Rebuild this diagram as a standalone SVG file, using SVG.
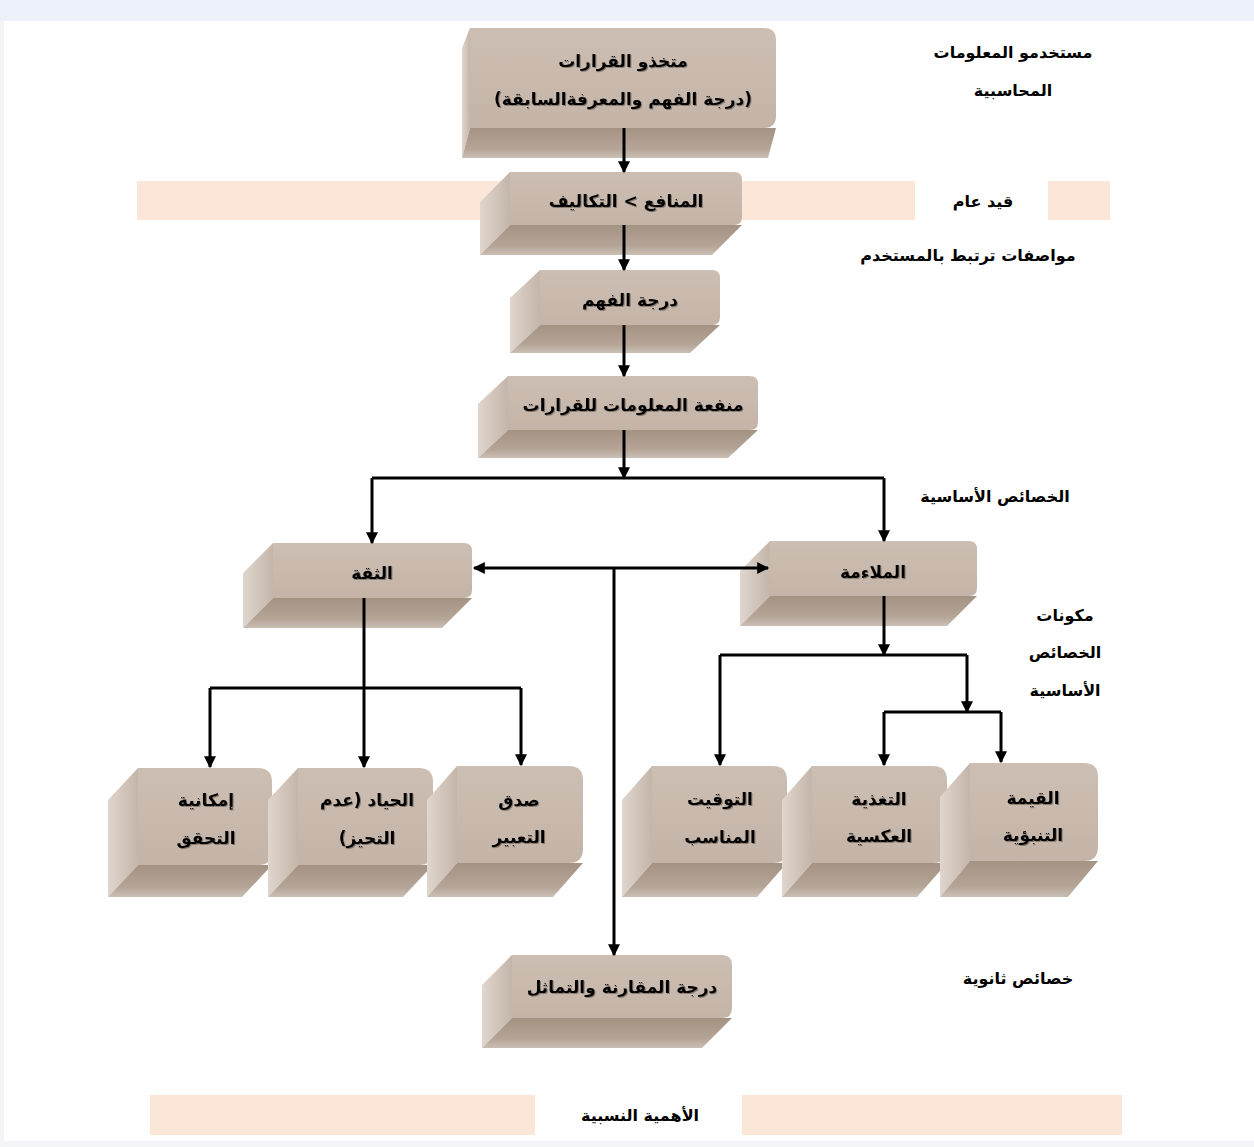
<svg xmlns="http://www.w3.org/2000/svg" width="1254" height="1147" viewBox="0 0 1254 1147">
  <style>
    text { font-family: "DejaVu Sans", "Noto Sans", sans-serif; font-weight: bold; fill: #000; text-anchor: middle; direction: rtl; }
    .box { font-size: 17px; }
    .lbl { font-size: 16px; }
    .front { fill: url(#gFront); }
    .side { fill: url(#gSide); }
    .base { fill: url(#gBase); }
    .band { fill: #fbe6d8; }
    .wire { fill: none; stroke: #000; stroke-width: 3; }
    .arr { marker-end: url(#arrow); }
    .both { marker-start: url(#arrow); marker-end: url(#arrow); }
  </style>
  <defs>
    <linearGradient id="gFront" x1="0" y1="0" x2="0" y2="1">
      <stop offset="0" stop-color="#cdbeb3"/>
      <stop offset="1" stop-color="#c4b4a8"/>
    </linearGradient>
    <linearGradient id="gSide" x1="0" y1="0" x2="1" y2="0">
      <stop offset="0" stop-color="#e0d6ce"/>
      <stop offset="1" stop-color="#c4b5a9"/>
    </linearGradient>
    <linearGradient id="gBase" x1="0" y1="0" x2="0" y2="1">
      <stop offset="0" stop-color="#a49383"/>
      <stop offset="0.7" stop-color="#b5a597"/>
      <stop offset="1" stop-color="#cbbfb4"/>
    </linearGradient>
    <marker id="arrow" viewBox="0 0 10 10" refX="9" refY="5" markerWidth="13" markerHeight="12" markerUnits="userSpaceOnUse" orient="auto-start-reverse">
      <path d="M0,0 L10,5 L0,10 z" fill="#000"/>
    </marker>
    <filter id="txtShadow" x="-10%" y="-30%" width="120%" height="160%">
      <feDropShadow dx="1" dy="1" stdDeviation="0.7" flood-color="#5e534a" flood-opacity="0.6"/>
    </filter>
  </defs>

  <!-- page frame -->
  <rect x="0" y="0" width="1254" height="1147" fill="#fff"/>
  <rect x="0" y="0" width="1254" height="21" fill="#edf1f9"/>
  <rect x="0" y="21" width="4" height="1126" fill="#f3f5f9"/>
  <rect x="0" y="1141" width="1254" height="6" fill="#f3f5f9"/>

  <!-- horizontal bands -->
  <g id="bands">
    <rect class="band" x="137" y="181" width="778" height="39"/>
    <rect class="band" x="1048" y="181" width="62" height="39"/>
    <rect class="band" x="150" y="1095" width="385" height="40"/>
    <rect class="band" x="742" y="1095" width="380" height="40"/>
  </g>

  <!-- extruded boxes: side face, base face, front face, caption -->
  <g id="n-decision-makers">
    <path class="side" d="M470,28 L470,128 L462,158 L462,48 Z"/>
    <path class="base" d="M470,128 L776,128 L768,158 L462,158 Z"/>
    <path class="front" d="M470,28 H764 Q776,28 776,40 V116 Q776,128 764,128 H470 Z"/>
    <g filter="url(#txtShadow)" class="box">
      <text x="623" y="67">متخذو القرارات</text>
      <text x="623" y="105">(درجة الفهم والمعرفةالسابقة)</text>
    </g>
  </g>

  <g id="n-benefit-cost">
    <path class="side" d="M510,172 L510,225 L480,255 L480,202 Z"/>
    <path class="base" d="M510,225 L742,225 L712,255 L480,255 Z"/>
    <path class="front" d="M510,172 H734 Q742,172 742,180 V217 Q742,225 734,225 H510 Z"/>
    <text class="box" filter="url(#txtShadow)" x="626" y="207">المنافع &gt; التكاليف</text>
  </g>

  <g id="n-understanding">
    <path class="side" d="M540,270 L540,325 L510,353 L510,298 Z"/>
    <path class="base" d="M540,325 L720,325 L690,353 L510,353 Z"/>
    <path class="front" d="M540,270 H712 Q720,270 720,278 V317 Q720,325 712,325 H540 Z"/>
    <text class="box" filter="url(#txtShadow)" x="630" y="306">درجة الفهم</text>
  </g>

  <g id="n-usefulness">
    <path class="side" d="M508,376 L508,430 L478,458 L478,404 Z"/>
    <path class="base" d="M508,430 L758,430 L728,458 L478,458 Z"/>
    <path class="front" d="M508,376 H750 Q758,376 758,384 V422 Q758,430 750,430 H508 Z"/>
    <text class="box" filter="url(#txtShadow)" x="633" y="411">منفعة المعلومات للقرارات</text>
  </g>

  <g id="n-reliability">
    <path class="side" d="M273,543 L273,598 L243,628 L243,573 Z"/>
    <path class="base" d="M273,598 L472,598 L442,628 L243,628 Z"/>
    <path class="front" d="M273,543 H464 Q472,543 472,551 V590 Q472,598 464,598 H273 Z"/>
    <text class="box" filter="url(#txtShadow)" x="372" y="579">الثقة</text>
  </g>

  <g id="n-relevance">
    <path class="side" d="M770,541 L770,596 L740,626 L740,571 Z"/>
    <path class="base" d="M770,596 L977,596 L947,626 L740,626 Z"/>
    <path class="front" d="M770,541 H969 Q977,541 977,549 V588 Q977,596 969,596 H770 Z"/>
    <text class="box" filter="url(#txtShadow)" x="873" y="578">الملاءمة</text>
  </g>

  <g id="n-verifiability">
    <path class="side" d="M138,768 L138,865 L108,897 L108,800 Z"/>
    <path class="base" d="M138,865 L272,865 L242,897 L108,897 Z"/>
    <path class="front" d="M138,768 H258 Q272,768 272,782 V851 Q272,865 258,865 H138 Z"/>
    <g filter="url(#txtShadow)" class="box">
      <text x="206" y="806">إمكانية</text>
      <text x="206" y="844">التحقق</text>
    </g>
  </g>

  <g id="n-neutrality">
    <path class="side" d="M298,768 L298,865 L268,897 L268,800 Z"/>
    <path class="base" d="M298,865 L433,865 L403,897 L268,897 Z"/>
    <path class="front" d="M298,768 H419 Q433,768 433,782 V851 Q433,865 419,865 H298 Z"/>
    <g filter="url(#txtShadow)" class="box">
      <text x="367" y="806">الحياد (عدم</text>
      <text x="367" y="844">التحيز)</text>
    </g>
  </g>

  <g id="n-faithfulness">
    <path class="side" d="M457,766 L457,863 L427,897 L427,800 Z"/>
    <path class="base" d="M457,863 L583,863 L553,897 L427,897 Z"/>
    <path class="front" d="M457,766 H569 Q583,766 583,780 V849 Q583,863 569,863 H457 Z"/>
    <g filter="url(#txtShadow)" class="box">
      <text x="519" y="806">صدق</text>
      <text x="519" y="843">التعبير</text>
    </g>
  </g>

  <g id="n-timeliness">
    <path class="side" d="M652,766 L652,863 L622,897 L622,800 Z"/>
    <path class="base" d="M652,863 L787,863 L757,897 L622,897 Z"/>
    <path class="front" d="M652,766 H773 Q787,766 787,780 V849 Q787,863 773,863 H652 Z"/>
    <g filter="url(#txtShadow)" class="box">
      <text x="720" y="805">التوقيت</text>
      <text x="720" y="843">المناسب</text>
    </g>
  </g>

  <g id="n-feedback">
    <path class="side" d="M812,766 L812,863 L782,897 L782,800 Z"/>
    <path class="base" d="M812,863 L947,863 L917,897 L782,897 Z"/>
    <path class="front" d="M812,766 H933 Q947,766 947,780 V849 Q947,863 933,863 H812 Z"/>
    <g filter="url(#txtShadow)" class="box">
      <text x="879" y="805">التغذية</text>
      <text x="879" y="842">العكسية</text>
    </g>
  </g>

  <g id="n-predictive">
    <path class="side" d="M970,763 L970,861 L940,897 L940,797 Z"/>
    <path class="base" d="M970,861 L1098,861 L1068,897 L940,897 Z"/>
    <path class="front" d="M970,763 H1084 Q1098,763 1098,777 V847 Q1098,861 1084,861 H970 Z"/>
    <g filter="url(#txtShadow)" class="box">
      <text x="1033" y="804">القيمة</text>
      <text x="1033" y="841">التنبؤية</text>
    </g>
  </g>

  <g id="n-comparability">
    <path class="side" d="M512,955 L512,1018 L482,1048 L482,985 Z"/>
    <path class="base" d="M512,1018 L732,1018 L702,1048 L482,1048 Z"/>
    <path class="front" d="M512,955 H722 Q732,955 732,965 V1008 Q732,1018 722,1018 H512 Z"/>
    <text class="box" filter="url(#txtShadow)" x="622" y="993">درجة المقارنة والتماثل</text>
  </g>

  <!-- connectors -->
  <g id="connectors">
    <path class="wire arr" d="M624,128 V172"/>
    <path class="wire arr" d="M624,225 V270"/>
    <path class="wire arr" d="M624,325 V376"/>
    <path class="wire arr" d="M624,430 V478"/>
    <path class="wire" d="M372,478 H884"/>
    <path class="wire arr" d="M372,478 V543"/>
    <path class="wire arr" d="M884,478 V541"/>
    <path class="wire both" d="M474,568 H768"/>
    <path class="wire arr" d="M614,568 V955"/>
    <path class="wire arr" d="M364,598 V767"/>
    <path class="wire" d="M210,688 H521"/>
    <path class="wire arr" d="M210,688 V767"/>
    <path class="wire arr" d="M521,688 V765"/>
    <path class="wire arr" d="M884,596 V655"/>
    <path class="wire" d="M720,655 H967"/>
    <path class="wire arr" d="M720,655 V765"/>
    <path class="wire arr" d="M967,655 V712"/>
    <path class="wire" d="M884,712 H1001"/>
    <path class="wire arr" d="M884,712 V765"/>
    <path class="wire arr" d="M1001,712 V762"/>
  </g>

  <!-- side captions -->
  <g id="captions">
    <text class="lbl" x="1013" y="58">مستخدمو المعلومات</text>
    <text class="lbl" x="1013" y="96">المحاسبية</text>
    <text class="lbl" x="983" y="207">قيد عام</text>
    <text class="lbl" x="968" y="261">مواصفات ترتبط بالمستخدم</text>
    <text class="lbl" x="995" y="502">الخصائص الأساسية</text>
    <text class="lbl" x="1065" y="621">مكونات</text>
    <text class="lbl" x="1065" y="658">الخصائص</text>
    <text class="lbl" x="1065" y="696">الأساسية</text>
    <text class="lbl" x="1018" y="984">خصائص ثانوية</text>
    <text class="lbl" x="640" y="1121">الأهمية النسبية</text>
  </g>
</svg>
